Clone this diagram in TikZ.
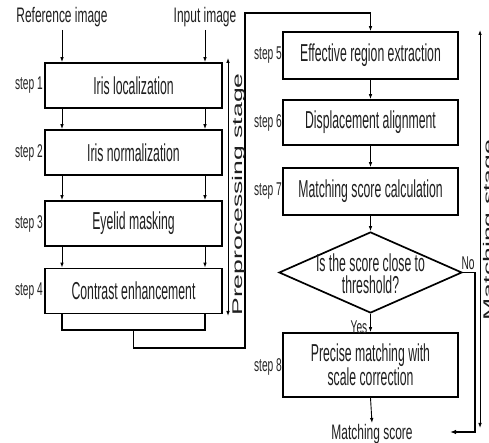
\documentclass[tikz,border=0pt]{standalone}
\usepackage{fontspec}
\setmainfont{Liberation Sans}
\newfontfamily\boxfont[FakeStretch=0.5]{Liberation Sans}
\newfontfamily\labfont[FakeStretch=0.57]{Liberation Sans}
\newfontfamily\stepfont[FakeStretch=0.55]{Liberation Sans}
\newfontfamily\stagefont[FakeStretch=1.9]{Liberation Sans}
\usetikzlibrary{arrows.meta,shapes.geometric}
\begin{document}
\begin{tikzpicture}[x=1pt,y=1pt,
  procbox/.style={draw, line width=1.7pt, inner sep=0pt, align=center,
    font=\boxfont\fontsize{24.5}{22}\selectfont, text=black!88},
  leftbox/.style={procbox, minimum width=177pt, minimum height=45pt},
  rightbox/.style={procbox, minimum width=175pt, minimum height=46pt},
  steplab/.style={anchor=east, inner sep=0pt, font=\stepfont\fontsize{18.5}{20}\selectfont, text=black!85},
  toplab/.style={inner sep=0pt, font=\labfont\fontsize{21}{22}\selectfont, text=black!88},
  small/.style={inner sep=0pt, font=\stepfont\fontsize{18.5}{20}\selectfont, text=black!88},
  stagelab/.style={rotate=90, anchor=base, inner sep=0pt, font=\stagefont\fontsize{14}{16}\selectfont, text=black!88},
  arr/.style={line width=0.9pt, -{Latex[length=5pt,width=3.6pt]}},
  darr/.style={line width=0.9pt, {Latex[length=5pt,width=3.6pt]}-{Latex[length=5pt,width=3.6pt]}},
  link/.style={line width=1.5pt},
  linkarr/.style={line width=1.5pt, -{Latex[length=6pt,width=4.5pt]}}
]
\useasboundingbox (0,0) rectangle (489,443);

% top labels
\node[toplab] (ref) at (62,426) {Reference image};
\node[toplab] (inp) at (205,426) {Input image};

% left column
\node[leftbox] (b1) at (133.5,357.5) {Iris localization};
\node[leftbox] (b2) at (133.5,290.5) {Iris normalization};
\node[leftbox] (b3) at (133.5,219.5) {Eyelid masking};
\node[leftbox] (b4) at (133.5,152) {Contrast enhancement};

\node[steplab] (s1) at (43,357.5) {step 1};
\node[steplab] (s2) at (43,290.5) {step 2};
\node[steplab] (s3) at (43,219.5) {step 3};
\node[steplab] (s4) at (43,152) {step 4};

\coordinate (L) at (62,0);
\coordinate (R) at (205,0);

\draw[arr] ([yshift=-3pt]ref.south) -- (b1.north -| ref);
\draw[arr] ([yshift=-3pt]inp.south) -- (b1.north -| inp);
\foreach \a/\b in {b1/b2,b2/b3,b3/b4}{
  \draw[arr] (\a.south -| L) -- (\b.north -| L);
  \draw[arr] (\a.south -| R) -- (\b.north -| R);
}

% bracket below step 4 and link to matching stage
\coordinate (bl) at (62,113);
\coordinate (br) at (205,113);
\draw[link] (b4.south -| L) -- (bl) -- (br) -- (b4.south -| R);

% right column
\node[rightbox, minimum height=47pt] (b5) at (370.5,387.5) {Effective region extraction};
\node[rightbox, minimum height=45pt] (b6) at (370.5,320.5) {Displacement alignment};
\node[rightbox, minimum height=47pt] (b7) at (370.5,251.5) {Matching score calculation};
\node[draw, diamond, line width=1.7pt, minimum width=183pt, minimum height=81pt, inner sep=0pt] (d) at (370.5,170.5) {};
\node[procbox, draw=none, font=\boxfont\fontsize{24.5}{22}\selectfont] (dt) at (370.5,169) {Is the score close to\\threshold?};
\node[rightbox, minimum height=64pt] (b8) at (370.5,78) {Precise matching with\\scale correction};
\node[toplab] (ms) at (372,9) {Matching score};

\node[steplab] (s5) at (282,387.5) {step 5};
\node[steplab] (s6) at (282,320.5) {step 6};
\node[steplab] (s7) at (282,251.5) {step 7};
\node[steplab] (s8) at (282,76) {step 8};

\coordinate (m1) at (133.5,113);
\coordinate (m2) at (133.5,95);
\coordinate (m3) at (245,95);
\coordinate (m4) at (245,430);
\draw[link] (m1) -- (m2) -- (m3) -- (m4) -| ([yshift=6pt]b5.north);
\draw[arr] ([yshift=6.5pt]b5.north) -- (b5.north);

\draw[arr] (b5.south) -- (b6.north);
\draw[arr] (b6.south) -- (b7.north);
\draw[arr] (b7.south) -- (d.north);
\draw[arr] (d.south) -- (b8.north);
\draw[arr] (b8.south) -- ([yshift=1pt]ms.north);

\node[small] (yes) at (359,116) {Yes};
\node[small] (no) at (468,180) {No};

\coordinate (n1) at (475,170.5);
\coordinate (n2) at (475,11);
\coordinate (n3) at (450,11);
\draw[link] (d.east) -- (n1) -- (n2) -- ([xshift=-5pt]n2);
\draw[linkarr] ([xshift=-4pt]n2) -- (n3);

% stage arrows and labels
\coordinate (p1) at (228,385);
\coordinate (p2) at (228,127);
\draw[darr] (p1) -- (p2);
\node[stagelab] (pl) at (242.5,248.5) {Preprocessing stage};

\coordinate (q1) at (480,413);
\coordinate (q2) at (480,15);
\draw[darr] (q1) -- (q2);
\node[stagelab] (ql) at (493,213) {Matching stage};
\end{tikzpicture}
\end{document}
